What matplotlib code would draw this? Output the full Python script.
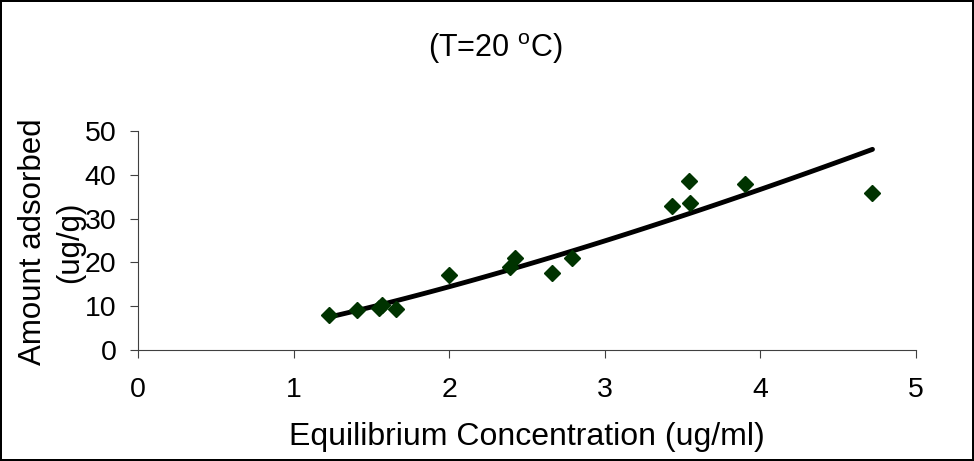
import numpy as np
import matplotlib
matplotlib.use("Agg")
import matplotlib.pyplot as plt

plt.rcParams['font.family'] = ['Liberation Sans', 'DejaVu Sans']
plt.rcParams['mathtext.fontset'] = 'custom'
plt.rcParams['mathtext.rm'] = 'Liberation Sans'

# dados
conc = [1.23, 1.41, 1.55, 1.57, 1.66, 2.00, 2.39, 2.42, 2.66, 2.79, 3.43, 3.54, 3.55, 3.90, 4.72]
adsorvido = [8.0, 9.2, 9.5, 10.3, 9.4, 17.0, 19.0, 20.9, 17.6, 21.0, 32.8, 38.5, 33.5, 37.8, 35.8]

# linha de tendencia (Freundlich y = k * x^n)
k_fit = 5.68
n_fit = 1.345

fig = plt.figure(figsize=(9.74, 4.61), dpi=100)
fig.patch.set_edgecolor('black')
fig.patch.set_linewidth(1.5)
ax = fig.add_axes([0.1417, 0.241, 0.7988, 0.475])

xs = np.linspace(min(conc), max(conc), 100)
ax.plot(xs, k_fit * xs ** n_fit, color='black', lw=3.5, solid_capstyle='round')
ax.plot(conc, adsorvido, 'D', color='#003300', ms=8.5, mec='#003300')

ax.set_xlim(0, 5)
ax.set_ylim(0, 50)
ax.set_xticks([0, 1, 2, 3, 4, 5])
ax.set_yticks([0, 10, 20, 30, 40, 50])
ax.spines['top'].set_visible(False)
ax.spines['right'].set_visible(False)
for s in ['left', 'bottom']:
    ax.spines[s].set_color('#404040')
ax.tick_params(direction='out', length=6, labelsize=20.5, color='#404040')
ax.tick_params(axis='x', pad=13.5)
ax.tick_params(axis='y', pad=9.5)

fig.text(0.541, 16 / 461, 'Equilibrium Concentration (ug/ml)', fontsize=23,
         ha='center', va='baseline')
fig.text(0.053, 0.475, 'Amount adsorbed\n(ug/g)', rotation=90, fontsize=22.5,
         ha='center', va='center', multialignment='center', linespacing=1.34)
fig.text(0.508, 0.876, r'(T=20 $^{\rm o}$C)', fontsize=22, ha='center', va='baseline')

fig.savefig('out.png', dpi=100, edgecolor=fig.get_edgecolor())
